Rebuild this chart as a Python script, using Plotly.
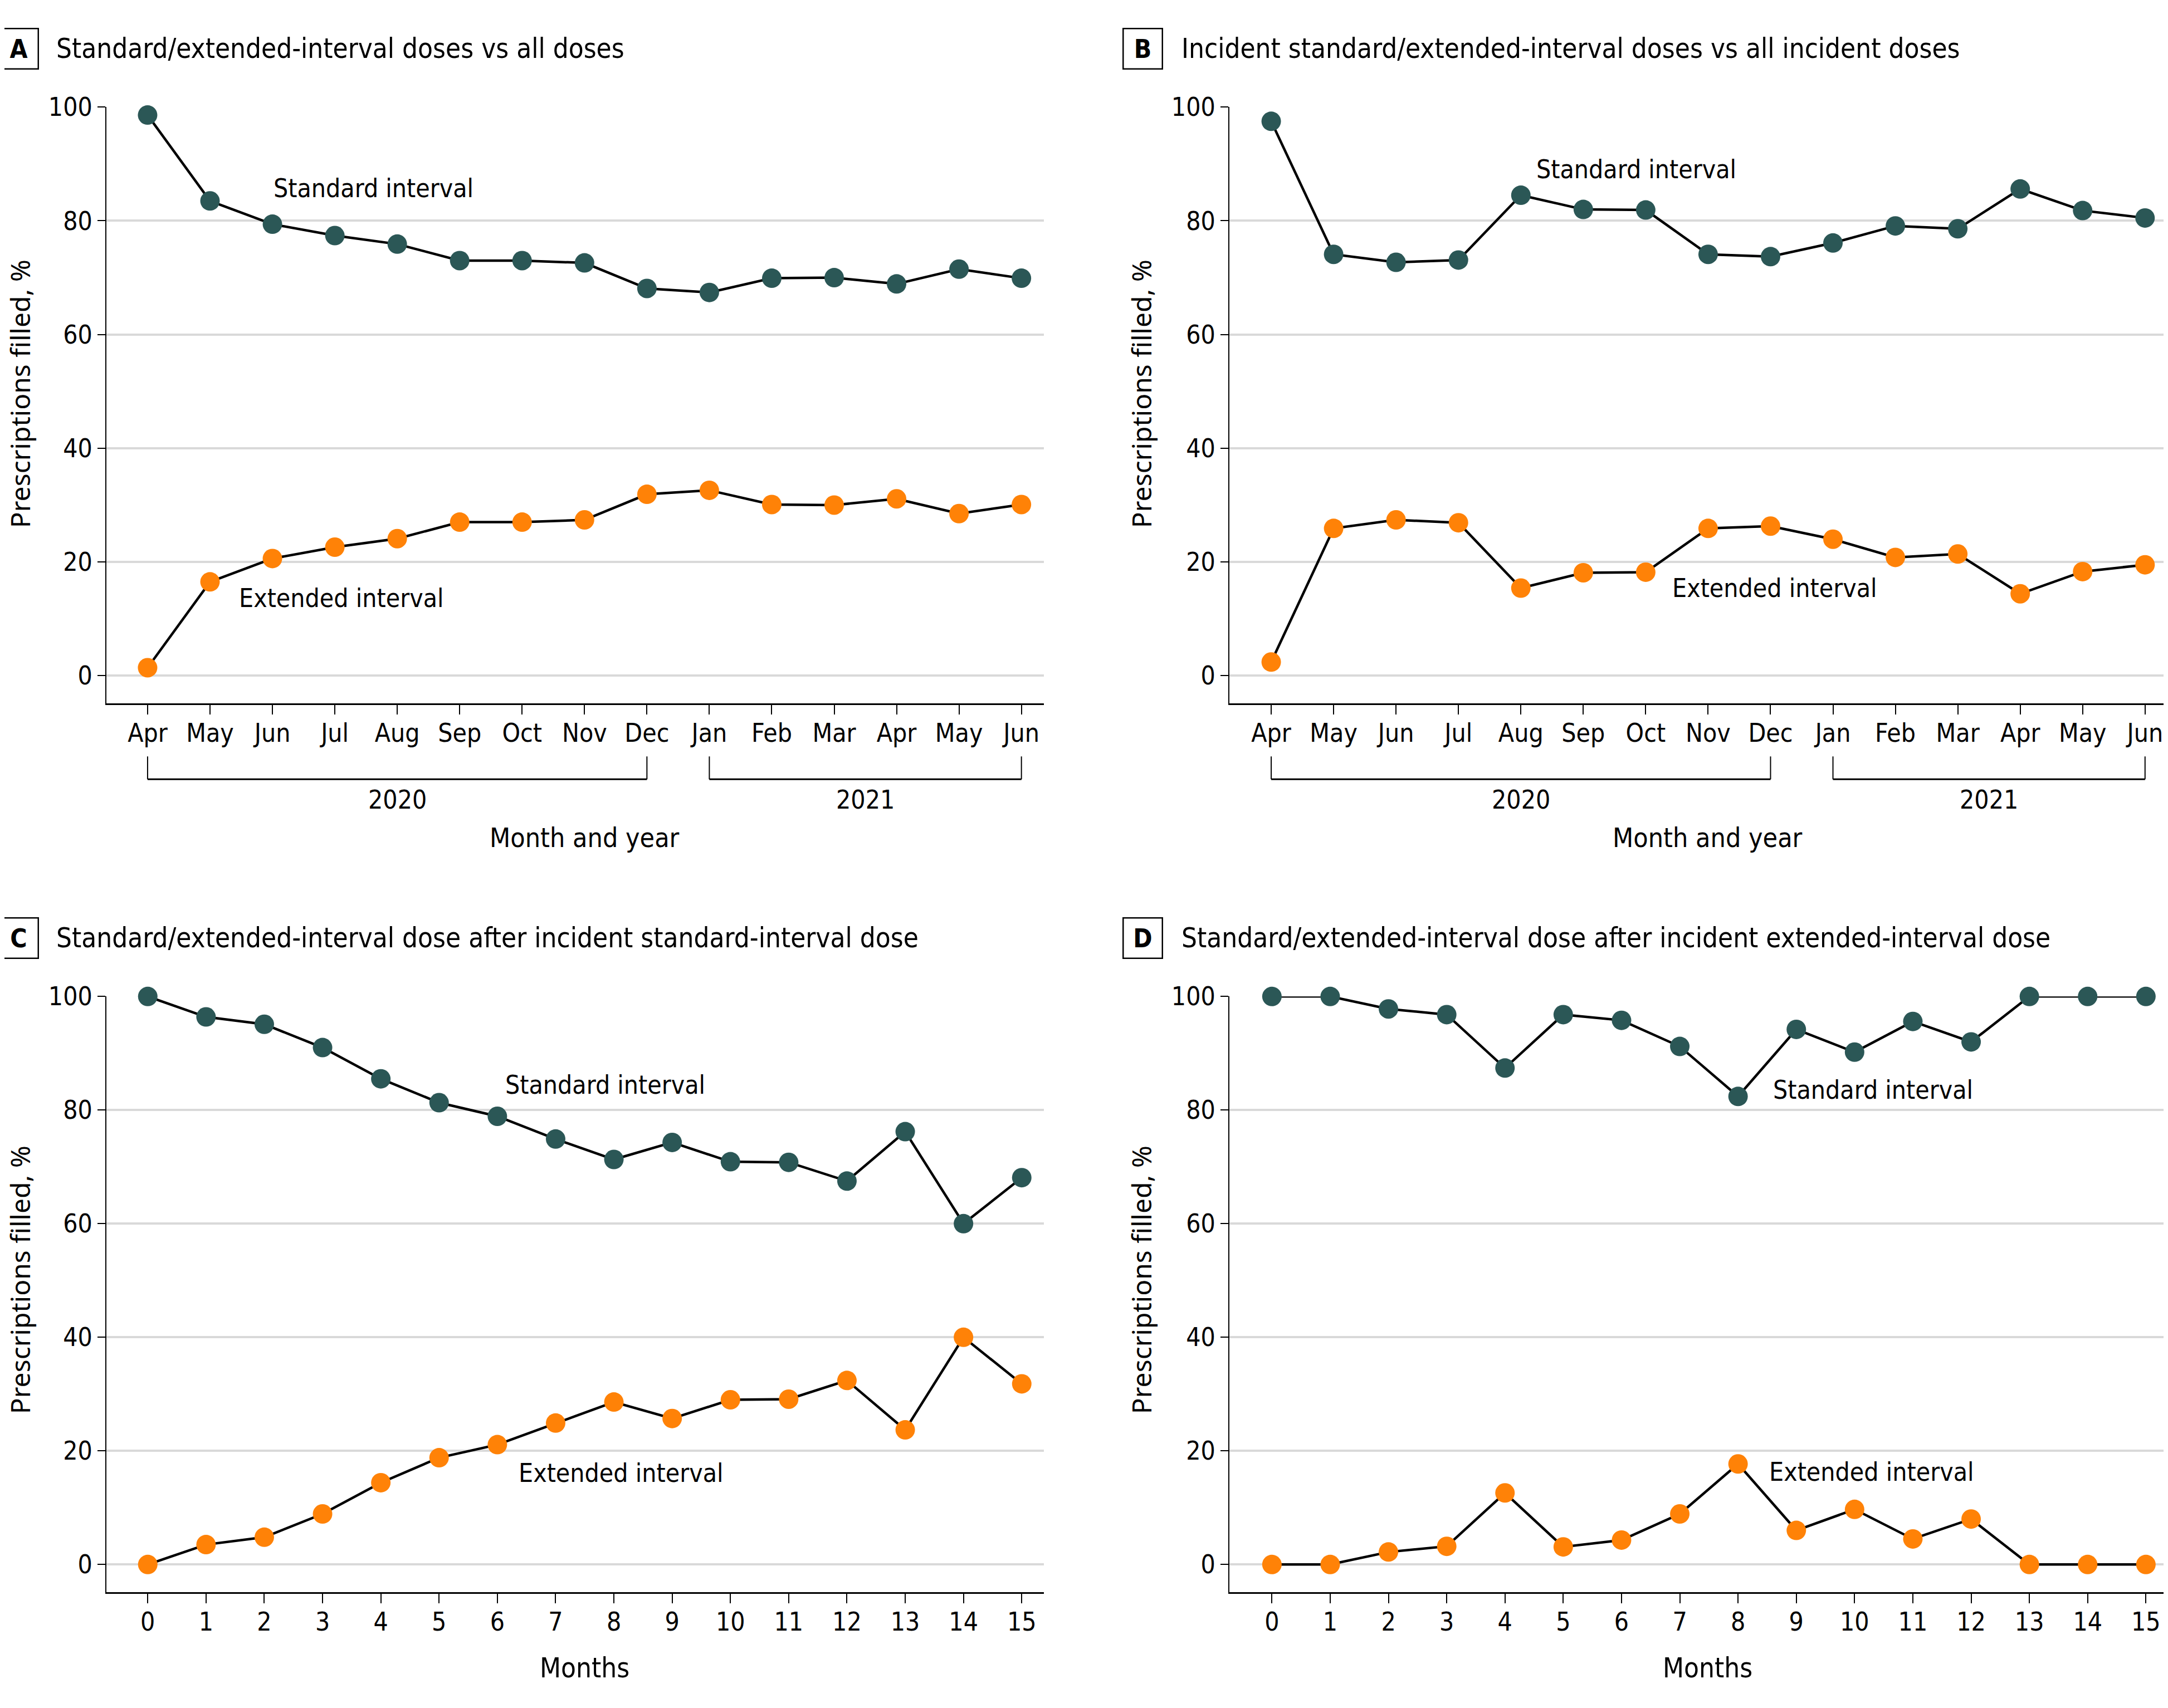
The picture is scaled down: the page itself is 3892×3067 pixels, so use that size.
import plotly.graph_objects as go

###############################################################################
# Data
###############################################################################
month_labels = ["Apr", "May", "Jun", "Jul", "Aug", "Sep", "Oct", "Nov", "Dec",
                "Jan", "Feb", "Mar", "Apr", "May", "Jun"]
month_years = ["2020", "2020", "2020", "2020", "2020", "2020", "2020", "2020", "2020",
               "2021", "2021", "2021", "2021", "2021", "2021"]
months_since = list(range(16))

a_standard = [98.6, 83.5, 79.4, 77.4, 75.9, 73.0, 73.0, 72.6, 68.1, 67.4, 69.9, 70.0, 68.9, 71.5, 69.9]
a_extended = [1.4, 16.5, 20.6, 22.6, 24.1, 27.0, 27.0, 27.4, 31.9, 32.6, 30.1, 30.0, 31.1, 28.5, 30.1]

b_standard = [97.5, 74.1, 72.7, 73.1, 84.5, 82.0, 81.9, 74.1, 73.7, 76.1, 79.1, 78.6, 85.6, 81.8, 80.5]
b_extended = [2.4, 25.9, 27.4, 26.9, 15.4, 18.1, 18.2, 25.9, 26.3, 24.0, 20.8, 21.4, 14.4, 18.3, 19.5]

c_standard = [100.0, 96.4, 95.1, 91.0, 85.5, 81.3, 78.9, 74.9, 71.3, 74.3, 70.9, 70.8, 67.5, 76.2, 60.0, 68.1]
c_extended = [0.0, 3.5, 4.8, 8.9, 14.4, 18.8, 21.1, 24.9, 28.6, 25.7, 29.0, 29.1, 32.4, 23.7, 40.0, 31.8]

d_standard = [100.0, 100.0, 97.8, 96.8, 87.4, 96.8, 95.8, 91.2, 82.4, 94.2, 90.2, 95.6, 92.0, 100.0, 100.0, 100.0]
d_extended = [0.0, 0.0, 2.2, 3.2, 12.6, 3.1, 4.3, 8.9, 17.7, 6.0, 9.7, 4.5, 8.0, 0.0, 0.0, 0.0]

panel_letters = ["A", "B", "C", "D"]
panel_titles = [
    "Standard/extended-interval doses vs all doses",
    "Incident standard/extended-interval doses vs all incident doses",
    "Standard/extended-interval dose after incident standard-interval dose",
    "Standard/extended-interval dose after incident extended-interval dose",
]
y_ticks = [0, 20, 40, 60, 80, 100]

###############################################################################
# Styling
###############################################################################
W, H = 3892, 3067
TEAL = "#2b5756"
ORANGE = "#ff8207"
FONT = "DejaVu Sans Condensed, Liberation Sans Narrow, sans-serif"
YFONT = "Noto Sans, Open Sans, sans-serif"
FS = 46
TITLE_FS = 49


# pixel helpers (small correction for how the page ends up on screen)
def px_x(p):
    return (p - 7) / W


def px_y(p):
    return 1 - ((p - 33.7) / 0.9912) / H


month_idx = list(range(len(month_labels)))

panels = [
    dict(x=month_idx, ticks=month_labels, std=a_standard, ext=a_extended,
         xd=(190, 1873), yd=(191, 1262), xr=[-0.66, 14.36],
         std_lbl=(2.0, 85.7), ext_lbl=(1.45, 13.6)),
    dict(x=month_idx, ticks=month_labels, std=b_standard, ext=b_extended,
         xd=(2206, 3889), yd=(191, 1262), xr=[-0.67, 14.35],
         std_lbl=(4.23, 89.1), ext_lbl=(6.41, 15.4)),
    dict(x=months_since, ticks=[str(m) for m in months_since], std=c_standard, ext=c_extended,
         xd=(190, 1873), yd=(1788, 2858), xr=[-0.71, 15.38],
         std_lbl=(6.12, 84.4), ext_lbl=(6.35, 16.1)),
    dict(x=months_since, ticks=[str(m) for m in months_since], std=d_standard, ext=d_extended,
         xd=(2206, 3889), yd=(1788, 2858), xr=[-0.73, 15.36],
         std_lbl=(8.58, 83.6), ext_lbl=(8.51, 16.3)),
]

fig = go.Figure()
layout = dict(
    width=W, height=H,
    margin=dict(l=0, r=0, t=0, b=0),
    paper_bgcolor="white", plot_bgcolor="white",
    showlegend=False,
    font=dict(family=FONT, size=FS, color="black"),
)
annotations = []
shapes = []

for i, p in enumerate(panels):
    n = "" if i == 0 else str(i + 1)
    xa, ya = "x" + n, "y" + n
    left = p["xd"][0] < 1000
    top = p["yd"][0] < 1000

    for vals, col in ((p["std"], TEAL), (p["ext"], ORANGE)):
        fig.add_trace(go.Scatter(
            x=p["x"], y=vals, xaxis=xa, yaxis=ya,
            mode="lines+markers",
            line=dict(color="black", width=4.5),
            marker=dict(color=col, size=35, line=dict(width=0)),
            cliponaxis=False,
        ))

    layout["xaxis" + n] = dict(
        domain=[px_x(p["xd"][0]), min(px_x(p["xd"][1]), 1.0)],
        range=p["xr"], anchor=ya,
        tickmode="array", tickvals=p["x"], ticktext=p["ticks"],
        ticks="outside", ticklen=17, tickwidth=2, tickcolor="black",
        ticklabelstandoff=-6,
        showline=True, linewidth=2.5, linecolor="black",
        showgrid=False, zeroline=False,
        tickfont=dict(family=FONT, size=FS),
    )
    layout["yaxis" + n] = dict(
        domain=[px_y(p["yd"][1]), px_y(p["yd"][0])],
        range=[-4.9, 100], anchor=xa,
        tickmode="array", tickvals=y_ticks,
        ticks="outside", ticklen=14, tickwidth=2, tickcolor="black",
        showline=True, linewidth=2, linecolor="black",
        showgrid=True, gridcolor="#d9d9d9", gridwidth=4,
        zeroline=False,
        tickfont=dict(family=FONT, size=FS),
    )

    # series labels
    annotations.append(dict(x=p["std_lbl"][0], y=p["std_lbl"][1], xref=xa, yref=ya,
                            text="Standard interval", showarrow=False,
                            xanchor="left", yanchor="middle", font=dict(size=FS)))
    annotations.append(dict(x=p["ext_lbl"][0], y=p["ext_lbl"][1], xref=xa, yref=ya,
                            text="Extended interval", showarrow=False,
                            xanchor="left", yanchor="middle", font=dict(size=FS)))

    # panel letter box and title
    box_x = 32 if left else 2050
    text_x = 98 if left else 2118
    title_y = 86 if top else 1683
    annotations.append(dict(x=px_x(box_x), y=px_y(title_y), xref="paper", yref="paper",
                            text="<b>" + panel_letters[i] + "</b>", showarrow=False,
                            xanchor="center", yanchor="middle",
                            width=64, height=66, borderpad=2,
                            bordercolor="black", borderwidth=2.5,
                            font=dict(size=FS)))
    annotations.append(dict(x=px_x(text_x), y=px_y(title_y), xref="paper", yref="paper",
                            text=panel_titles[i], showarrow=False,
                            xanchor="left", yanchor="middle", font=dict(size=TITLE_FS)))

    # y axis title
    ytitle_x = 34 if left else 2047
    ymid = 706 if top else 2297
    annotations.append(dict(x=px_x(ytitle_x), y=px_y(ymid), xref="paper", yref="paper",
                            text="Prescriptions filled, %", textangle=-90, showarrow=False,
                            xanchor="center", yanchor="middle",
                            font=dict(family=YFONT, size=48)))

    # x axis title + year brackets
    xmid = (p["xd"][0] + p["xd"][1]) / 2 + 17
    if top:
        annotations.append(dict(x=px_x(xmid), y=px_y(1503), xref="paper", yref="paper",
                                text="Month and year", showarrow=False,
                                xanchor="center", yanchor="middle", font=dict(size=48)))
        for yr in sorted(set(month_years)):
            idx = [k for k, y in enumerate(month_years) if y == yr]
            x0, x1 = p["x"][idx[0]], p["x"][idx[-1]]
            btop, bbot = px_y(1357), px_y(1398)
            for xx in (x0, x1):
                shapes.append(dict(type="line", xref=xa, yref="paper",
                                   x0=xx, x1=xx, y0=btop, y1=bbot,
                                   line=dict(color="black", width=2)))
            shapes.append(dict(type="line", xref=xa, yref="paper",
                               x0=x0, x1=x1, y0=bbot, y1=bbot,
                               line=dict(color="black", width=3)))
            annotations.append(dict(x=(x0 + x1) / 2, y=px_y(1435), xref=xa, yref="paper",
                                    text=yr, showarrow=False,
                                    xanchor="center", yanchor="middle", font=dict(size=FS)))
    else:
        annotations.append(dict(x=px_x(xmid), y=px_y(2994), xref="paper", yref="paper",
                                text="Months", showarrow=False,
                                xanchor="center", yanchor="middle", font=dict(size=49)))

layout["annotations"] = annotations
layout["shapes"] = shapes
fig.update_layout(**layout)

fig.write_html("out.html")
